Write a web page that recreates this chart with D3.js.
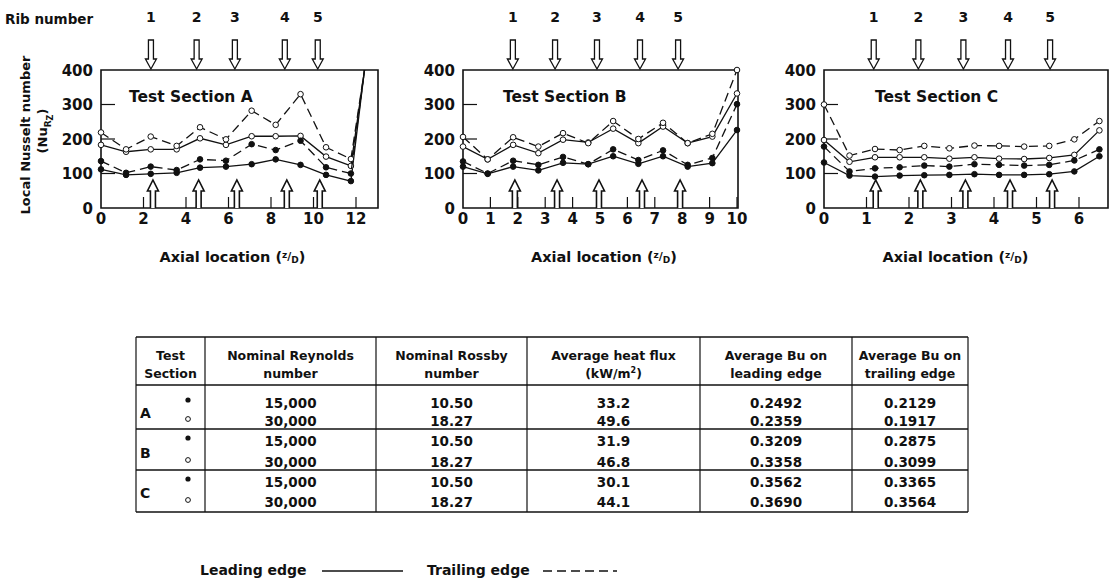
<!DOCTYPE html>
<html>
<head>
<meta charset="utf-8">
<script src="https://cdn.jsdelivr.net/npm/d3@7"></script>
<style>
body { margin: 0; background: #fff; }
svg text { font-family: "DejaVu Sans", sans-serif; font-weight: bold; fill: #111; }
</style>
</head>
<body>
<svg id="chart" width="1111" height="581"></svg>
<script>
// ---- data ----
// Test section A
var xA = [0, 1.18, 2.34, 3.56, 4.66, 5.88, 7.09, 8.22, 9.39, 10.59, 11.76, 12.4];
var leadLowA   = [112, 96, 99, 102, 117, 120, 127, 141, 125, 96, 78, 400];
var leadHighA  = [183, 163, 170, 170, 202, 183, 208, 208, 209, 149, 122, 400];
var trailLowA  = [136, 102, 120, 110, 141, 137, 185, 168, 195, 118, 100, 400];
var trailHighA = [219, 170, 207, 180, 234, 199, 282, 241, 330, 176, 142, 400];
var ribsA = [2.35, 4.5, 6.3, 8.65, 10.2];
var ticksA = [0, 2, 4, 6, 8, 10, 12];

// Test section B
var xB = [0, 0.9, 1.83, 2.75, 3.65, 4.57, 5.48, 6.4, 7.3, 8.2, 9.1, 10];
var leadLowB   = [120, 99, 120, 109, 131, 127, 150, 128, 150, 120, 130, 226];
var leadHighB  = [178, 141, 183, 159, 198, 190, 230, 188, 236, 188, 207, 332];
var trailLowB  = [135, 100, 137, 125, 148, 127, 170, 139, 167, 125, 145, 301];
var trailHighB = [206, 141, 205, 178, 217, 188, 252, 200, 247, 188, 215, 400];
var ribsB = [1.82, 3.36, 4.89, 6.46, 7.85];
var ticksB = [0, 1, 2, 3, 4, 5, 6, 7, 8, 9, 10];

// Test section C
var xC = [0, 0.6, 1.2, 1.78, 2.36, 2.95, 3.54, 4.12, 4.71, 5.3, 5.89, 6.48];
var leadLowC   = [132, 94, 91, 94, 95, 96, 98, 96, 96, 98, 106, 150];
var leadHighC  = [197, 134, 147, 147, 147, 143, 147, 143, 142, 145, 154, 225];
var trailLowC  = [178, 106, 115, 118, 123, 120, 127, 125, 123, 125, 138, 170];
var trailHighC = [300, 152, 171, 168, 180, 173, 181, 180, 178, 180, 199, 252];
var ribsC = [1.17, 2.22, 3.28, 4.33, 5.32];
var ticksC = [0, 1, 2, 3, 4, 5, 6];

var yTicks = [0, 100, 200, 300, 400];
var ribNumbers = ['1', '2', '3', '4', '5'];

// table
var tableHeaders = [['Test', 'Section'], ['Nominal Reynolds', 'number'], ['Nominal Rossby', 'number'],
                    ['Average heat flux', '(kW/m'], ['Average Bu on', 'leading edge'], ['Average Bu on', 'trailing edge']];
var sections = ['A', 'B', 'C'];
var reynolds = ['15,000', '30,000', '15,000', '30,000', '15,000', '30,000'];
var rossby   = ['10.50', '18.27', '10.50', '18.27', '10.50', '18.27'];
var heatFlux = ['33.2', '49.6', '31.9', '46.8', '30.1', '44.1'];
var buLead   = ['0.2492', '0.2359', '0.3209', '0.3358', '0.3562', '0.3690'];
var buTrail  = ['0.2129', '0.1917', '0.2875', '0.3099', '0.3365', '0.3564'];

// ---- layout ----
var svg = d3.select('#chart');
var plotTop = 70, plotBottom = 208;
var y = d3.scaleLinear().domain([0, 400]).range([plotBottom, plotTop]);

var panels = [
    { name: 'A', xs: xA, series: [leadLowA, leadHighA, trailLowA, trailHighA], ribs: ribsA, ticks: ticksA,
      inner: [2, 4, 6, 8, 10, 12], x: d3.scaleLinear().domain([0, 12]).range([101, 356]), right: 378, marked: 11, label: 129 },
    { name: 'B', xs: xB, series: [leadLowB, leadHighB, trailLowB, trailHighB], ribs: ribsB, ticks: ticksB,
      inner: [1, 2, 3, 4, 5, 6, 7, 8, 9, 10], x: d3.scaleLinear().domain([0, 10]).range([463, 737]), right: 738, marked: 12, label: 503 },
    { name: 'C', xs: xC, series: [leadLowC, leadHighC, trailLowC, trailHighC], ribs: ribsC, ticks: ticksC,
      inner: [1, 2, 3, 4, 5, 6], x: d3.scaleLinear().domain([0, 6]).range([824, 1079]), right: 1108, marked: 12, label: 875 }
];
var styles = [
    { dash: null, fill: '#111' },
    { dash: null, fill: '#fff' },
    { dash: '9,5', fill: '#111' },
    { dash: '9,5', fill: '#fff' }
];

function downArrow(g, cx) {
    g.append('path')
        .attr('d', 'M' + (cx - 2.5) + ',40 L' + (cx + 2.5) + ',40 L' + (cx + 2.5) + ',59 L' + (cx + 5.5) + ',59 L' + cx + ',69 L' +
              (cx - 5.5) + ',59 L' + (cx - 2.5) + ',59 Z')
        .attr('fill', '#fff').attr('stroke', '#111').attr('stroke-width', 1.3);
}
function upArrow(g, cx) {
    g.append('path')
        .attr('d', 'M' + (cx - 2.5) + ',' + plotBottom + ' L' + (cx - 2.5) + ',191 L' + (cx - 5.5) + ',191 L' + cx + ',180 L' +
              (cx + 5.5) + ',191 L' + (cx + 2.5) + ',191 L' + (cx + 2.5) + ',' + plotBottom)
        .attr('fill', '#fff').attr('stroke', '#111').attr('stroke-width', 1.6);
}

svg.append('text').attr('x', 5).attr('y', 24).style('font-size', '13.5px').text('Rib number');

// y axis title
svg.append('text').attr('transform', 'translate(30,135) rotate(-90)').attr('text-anchor', 'middle')
    .style('font-size', '13px').text('Local Nusselt number');
var nu = svg.append('text').attr('transform', 'translate(47,131) rotate(-90)').attr('text-anchor', 'middle')
    .style('font-size', '13px');
nu.append('tspan').text('(Nu');
nu.append('tspan').attr('dy', 4).style('font-size', '9px').text('R');
nu.append('tspan').attr('dy', 2).style('font-size', '8px').text('Z');
nu.append('tspan').attr('dy', -6).text(')');

panels.forEach(function (p) {
    var g = svg.append('g');
    var x = p.x;
    var x0 = x(0);

    // frame
    g.append('path')
        .attr('d', 'M' + x0 + ',' + plotTop + ' L' + p.right + ',' + plotTop + ' L' + p.right + ',' + plotBottom + ' L' + x0 + ',' + plotBottom + ' Z')
        .attr('fill', 'none').attr('stroke', '#111').attr('stroke-width', 1.6);

    // inward ticks
    g.selectAll('.xt').data(p.inner).enter().append('line')
        .attr('x1', function (d) { return x(d); }).attr('x2', function (d) { return x(d); })
        .attr('y1', plotBottom).attr('y2', plotBottom - 11)
        .attr('stroke', '#111').attr('stroke-width', 1.2);
    g.selectAll('.yt').data([100, 200, 300]).enter().append('line')
        .attr('x1', x0).attr('x2', x0 + 14)
        .attr('y1', function (d) { return y(d); }).attr('y2', function (d) { return y(d); })
        .attr('stroke', '#111').attr('stroke-width', 1.2);

    // tick labels
    g.selectAll('.xl').data(p.ticks).enter().append('text')
        .attr('x', function (d) { return x(d); }).attr('y', 224).attr('text-anchor', 'middle')
        .style('font-size', '15px').text(function (d) { return d; });
    g.selectAll('.yl').data(yTicks).enter().append('text')
        .attr('x', x0 - 8).attr('y', function (d) { return y(d) + 5.5; }).attr('text-anchor', 'end')
        .style('font-size', '15px').text(function (d) { return d; });

    // axis title
    var t = g.append('text').attr('x', (x0 + x(p.ticks[p.ticks.length - 1])) / 2 + 4).attr('y', 262)
        .attr('text-anchor', 'middle').style('font-size', '14.5px');
    t.append('tspan').text('Axial location (');
    t.append('tspan').attr('dy', -4).style('font-size', '9px').text('z');
    t.append('tspan').attr('dy', 2).style('font-size', '11px').text('/');
    t.append('tspan').attr('dy', 3).style('font-size', '9px').text('D');
    t.append('tspan').attr('dy', -1).text(')');

    g.append('text').attr('x', p.label).attr('y', 102).style('font-size', '15.5px').text('Test Section ' + p.name);

    // ribs
    p.ribs.forEach(function (r, i) {
        var cx = x(r);
        g.append('text').attr('x', cx).attr('y', 22).attr('text-anchor', 'middle').style('font-size', '14px').text(ribNumbers[i]);
        downArrow(g, cx);
        upArrow(g, cx + 2);
    });

    // series
    p.series.forEach(function (vals, s) {
        var pts = vals.map(function (v, i) { return [p.xs[i], v]; });
        g.append('path').datum(pts)
            .attr('d', d3.line().x(function (d) { return x(d[0]); }).y(function (d) { return y(d[1]); }))
            .attr('fill', 'none').attr('stroke', '#111').attr('stroke-width', 1.3)
            .attr('stroke-dasharray', styles[s].dash);
        g.selectAll('.m' + s).data(pts.slice(0, p.marked)).enter().append('circle')
            .attr('cx', function (d) { return x(d[0]); }).attr('cy', function (d) { return y(d[1]); })
            .attr('r', 2.8).attr('fill', styles[s].fill).attr('stroke', '#111').attr('stroke-width', 1);
    });
});

// ---- table ----
var cols = [136, 205, 376, 527, 700, 852, 968];
var hLines = [337, 385, 429, 470, 512];
var rowY = [403, 421, 441, 462, 482, 502];
var tg = svg.append('g');
tg.selectAll('.hl').data(hLines).enter().append('line')
    .attr('x1', cols[0]).attr('x2', cols[cols.length - 1])
    .attr('y1', function (d) { return d; }).attr('y2', function (d) { return d; })
    .attr('stroke', '#111').attr('stroke-width', 1.4);
tg.selectAll('.vl').data(cols).enter().append('line')
    .attr('x1', function (d) { return d; }).attr('x2', function (d) { return d; })
    .attr('y1', hLines[0]).attr('y2', hLines[hLines.length - 1])
    .attr('stroke', '#111').attr('stroke-width', 1.2);

tableHeaders.forEach(function (h, c) {
    var cx = (cols[c] + cols[c + 1]) / 2;
    tg.append('text').attr('x', cx).attr('y', 360).attr('text-anchor', 'middle').style('font-size', '12.5px').text(h[0]);
    var t2 = tg.append('text').attr('x', cx).attr('y', 378).attr('text-anchor', 'middle').style('font-size', '12.5px').text(h[1]);
    if (c === 3) {
        t2.append('tspan').attr('dy', -5).style('font-size', '8px').text('2');
        t2.append('tspan').attr('dy', 5).text(')');
    }
});

var columns = [reynolds, rossby, heatFlux, buLead, buTrail];
columns.forEach(function (vals, c) {
    var cx = (cols[c + 1] + cols[c + 2]) / 2;
    tg.selectAll('.c' + c).data(vals).enter().append('text')
        .attr('x', cx).attr('y', function (d, i) { return rowY[i] + 5; })
        .attr('text-anchor', 'middle').style('font-size', '13.5px').text(function (d) { return d; });
});

sections.forEach(function (s, i) {
    tg.append('text').attr('x', 140).attr('y', (rowY[2 * i] + rowY[2 * i + 1]) / 2 + 6).style('font-size', '14px').text(s);
    tg.append('circle').attr('cx', 188).attr('cy', rowY[2 * i] - 3).attr('r', 2.6).attr('fill', '#111');
    tg.append('circle').attr('cx', 188).attr('cy', rowY[2 * i + 1] - 2).attr('r', 2.4)
        .attr('fill', '#fff').attr('stroke', '#111').attr('stroke-width', 1);
});

// ---- legend ----
svg.append('text').attr('x', 200).attr('y', 575).style('font-size', '14px').text('Leading edge');
svg.append('line').attr('x1', 322).attr('x2', 403).attr('y1', 571).attr('y2', 571).attr('stroke', '#111').attr('stroke-width', 1.3);
svg.append('text').attr('x', 427).attr('y', 575).style('font-size', '14px').text('Trailing edge');
svg.append('line').attr('x1', 543).attr('x2', 617).attr('y1', 571).attr('y2', 571).attr('stroke', '#111').attr('stroke-width', 1.3)
    .attr('stroke-dasharray', '9,5');
</script>
</body>
</html>
